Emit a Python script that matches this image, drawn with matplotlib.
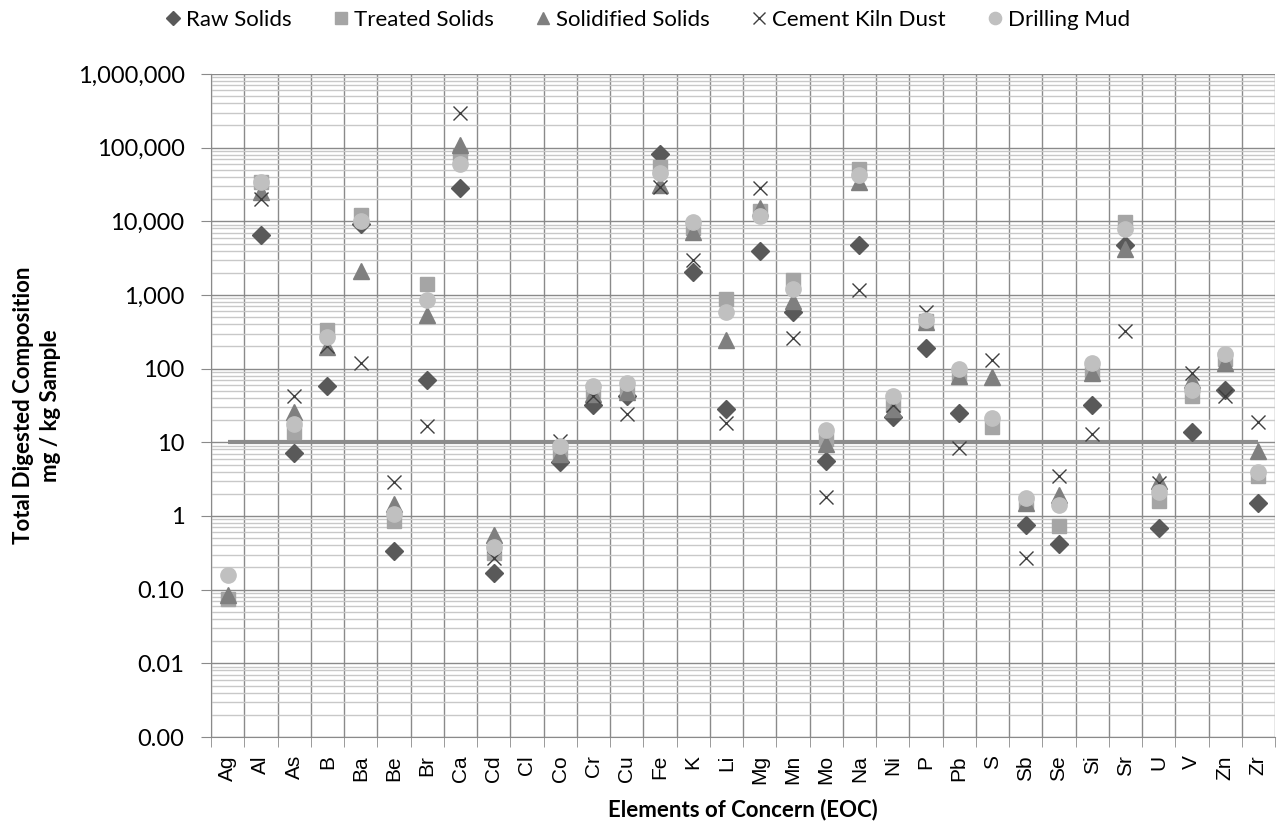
import numpy as np
import matplotlib
matplotlib.use("Agg")
import matplotlib.pyplot as plt
from matplotlib.ticker import FixedLocator, FuncFormatter, LogLocator, NullFormatter

nan = np.nan

elements = ["Ag", "Al", "As", "B", "Ba", "Be", "Br", "Ca", "Cd", "Cl", "Co", "Cr",
            "Cu", "Fe", "K", "Li", "Mg", "Mn", "Mo", "Na", "Ni", "P", "Pb", "S",
            "Sb", "Se", "Si", "Sr", "U", "V", "Zn", "Zr"]

raw_solids = [nan, 6600, 7.1, 58, 9300, 0.33, 71, 28000, 0.17, nan, 5.4, 32,
              43, 82000, 2050, 28, 4000, 590, 5.6, 4800, 22, 192, 25, nan,
              0.76, 0.42, 32, 4800, 0.68, 13.6, 51, 1.5]
treated_solids = [0.075, 34500, 13.7, 340, 12300, 0.85, 1390, 77000, 0.31, nan, 7.6, 50,
                  52, 55000, 8200, 870, 14000, 1600, 11, 52000, 32, 440, 80, 16,
                  1.55, 0.74, 93, 9900, 1.6, 42, 137, 3.5]
solidified_solids = [0.085, 25000, 26, 195, 2100, 1.45, 540, 110000, 0.56, nan, 7.0, 45,
                     48, 31000, 7100, 245, 15000, 820, 9.5, 34000, 28, 430, 80, 76,
                     1.5, 1.94, 87, 4150, 3.0, 70, 120, 7.7]
cement_kiln_dust = [nan, 20300, 42.5, 200, 120, 2.9, 16.6, 300000, 0.27, nan, 10.5, 42,
                    24.6, 29000, 3000, 18.5, 28500, 260, 1.8, 1180, 32, 580, 8.3, 133,
                    0.27, 3.5, 12.9, 323, 2.8, 86, 42, 19]
drilling_mud = [0.16, 34000, 18, 265, 10000, 1.05, 850, 60000, 0.38, nan, 8.9, 58,
                63, 46000, 9800, 590, 11700, 1200, 14.5, 43000, 42, 460, 98, 21.6,
                1.73, 1.42, 120, 7900, 2.15, 52, 156, 3.9]
threshold = [10] * len(elements)

series = [
    ("Raw Solids", raw_solids, dict(marker="D", color="#595959", ms=9, ls="none")),
    ("Treated Solids", treated_solids, dict(marker="s", color="#a5a5a5", ms=10, ls="none")),
    ("Solidified Solids", solidified_solids, dict(marker="^", color="#7f7f7f", ms=11, ls="none")),
    ("Cement Kiln Dust", cement_kiln_dust, dict(marker="x", color="#3f3f3f", ms=10, mew=1.0, ls="none")),
    ("Drilling Mud", drilling_mud, dict(marker="o", color="#c0c0c0", ms=11, ls="none")),
]

fig = plt.figure(figsize=(12.79, 8.30), dpi=100)
ax = fig.add_axes([211 / 1279, 1 - 737 / 830, (1275 - 211) / 1279, (737 - 74) / 830])

x = np.arange(len(elements))
ax.plot(x, threshold, color="#8c8c8c", lw=3, zorder=2, solid_capstyle="butt")
for name, vals, kw in series:
    ax.plot(x, vals, label=name, zorder=3, **kw)

ax.set_yscale("log")
ax.set_ylim(0.001, 1e6)
ax.set_xlim(-0.5, len(elements) - 0.5)

# y grid: decades darker, minor lighter
ax.yaxis.set_major_locator(LogLocator(base=10, numticks=20))
ax.yaxis.set_minor_locator(LogLocator(base=10, subs=np.arange(2, 10), numticks=20))
ax.yaxis.set_minor_formatter(NullFormatter())


def yfmt(v, pos):
    if v < 1:
        return f"{v:.2f}"
    return f"{v:,.0f}"


ax.yaxis.set_major_formatter(FuncFormatter(yfmt))
ax.grid(True, which="major", axis="y", color="#8a8a8a", lw=1.0)
ax.grid(True, which="minor", axis="y", color="#c8c8c8", lw=1.0)

# x: labels at centres, ticks/grid at boundaries
ax.set_xticks(x)
ax.set_xticklabels(elements, rotation=90, family="Liberation Sans", fontsize=15)
ax.xaxis.set_minor_locator(FixedLocator(np.arange(len(elements) + 1) - 0.5))
ax.tick_params(axis="x", which="major", length=0, pad=13)
ax.tick_params(axis="x", which="minor", length=7, color="#8a8a8a")
ax.grid(True, which="minor", axis="x", color="#8a8a8a", lw=1.0)
ax.tick_params(axis="y", which="major", length=7, color="#8a8a8a", labelsize=17, pad=12)
ax.tick_params(axis="y", which="minor", length=0)
for lab in ax.get_yticklabels():
    lab.set_family("Lato")

for side in ["top", "right"]:
    ax.spines[side].set_visible(False)
for side in ["left", "bottom"]:
    ax.spines[side].set_color("#8a8a8a")
ax.set_axisbelow(True)

ax.set_ylabel("Total Digested Composition\nmg / kg Sample", family="Lato",
              fontweight="bold", fontsize=16, labelpad=12, linespacing=1.35)
ax.set_xlabel("Elements of Concern (EOC)", family="Lato", fontweight="bold",
              fontsize=16, labelpad=10)

fig.legend(loc="upper center", bbox_to_anchor=(0.505, 1.012), ncol=5, frameon=False,
           prop=dict(family="Lato", size=16), handletextpad=0.1, columnspacing=1.7,
           handlelength=1.0, markerscale=0.8)

fig.savefig("out.png", dpi=100)
